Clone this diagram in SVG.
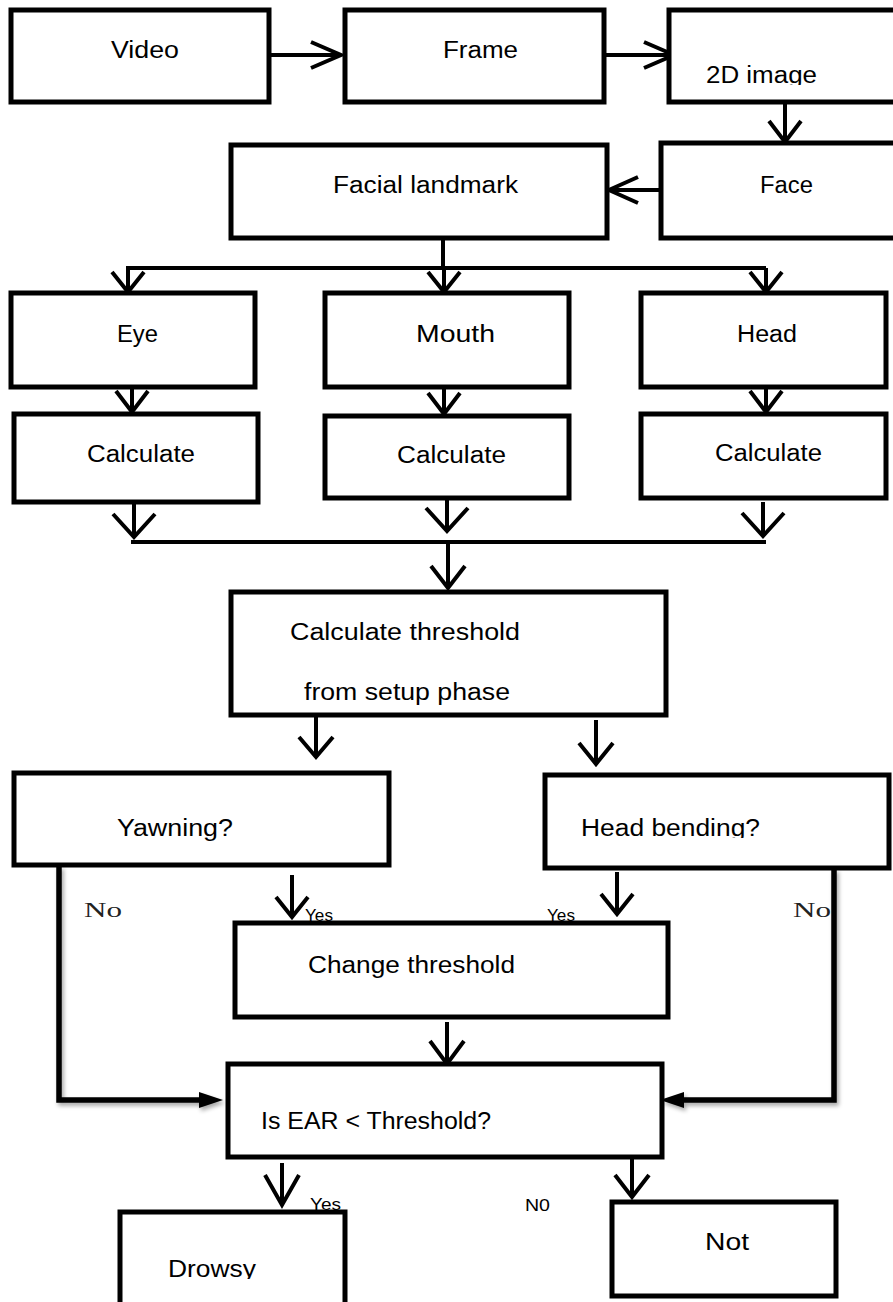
<svg xmlns="http://www.w3.org/2000/svg" width="893" height="1302" viewBox="0 0 893 1302">
<style>
.box{fill:#fff;stroke:#000;stroke-width:5}
.t{font-family:"Liberation Sans",Arial,sans-serif;font-size:23px;fill:#000}
.s{font-family:"Liberation Sans",Arial,sans-serif;font-size:16px;fill:#000}
.n{font-family:"Liberation Serif","Times New Roman",serif;font-size:20px;fill:#222}
.c{fill:none;stroke:#000;stroke-width:4;stroke-linejoin:miter}
.fb{fill:none;stroke:#000;stroke-width:5.5}
</style>
<defs>
<clipPath id="c2d"><rect x="660" y="0" width="240" height="85"/></clipPath>
<clipPath id="cyawn"><rect x="0" y="760" width="400" height="838"/></clipPath>
<clipPath id="chead"><rect x="540" y="760" width="360" height="78"/></clipPath>
<clipPath id="cdrow"><rect x="100" y="1200" width="260" height="79"/></clipPath>
<filter id="sh" x="-10%" y="-10%" width="130%" height="130%"><feDropShadow dx="2" dy="3" stdDeviation="2" flood-color="#000" flood-opacity="0.35"/></filter>
</defs>
<rect width="893" height="1302" fill="#fff"/>
<g id="connectors">
<path class="c" d="M269 55 H341 M311 42 L341 55 L311 68"/>
<path class="c" d="M604 55 H674 M644 42 L674 55 L644 68"/>
<path class="c" d="M785 102 V142 M769 121 L785 142 L801 121"/>
<path class="c" d="M661 190 H609 M638 177 L609 190 L638 203"/>
<path class="c" d="M443 238 V268 M126 268 H766"/>
<path class="c" d="M128 268 V292 M112 272 L128 292 L144 272"/>
<path class="c" d="M444 268 V292 M428 272 L444 292 L460 272"/>
<path class="c" d="M766 268 V292 M750 272 L766 292 L782 272"/>
<path class="c" d="M132 387 V412 M116 391 L132 412 L148 391"/>
<path class="c" d="M444 387 V414 M428 393 L444 414 L460 393"/>
<path class="c" d="M766 387 V412 M750 391 L766 412 L782 391"/>
<path class="c" d="M134 502 V537 M113 514 L134 537 L155 514"/>
<path class="c" d="M447 498 V531 M426 508 L447 531 L468 508"/>
<path class="c" d="M763 502 V536 M742 513 L763 536 L784 513"/>
<path class="c" d="M131 542 H766 M448 542 V588 M431 566 L448 588 L465 566"/>
<path class="c" d="M316 715 V757 M299 737 L316 757 L333 737"/>
<path class="c" d="M596 720 V764 M579 743 L596 764 L613 743"/>
<path class="c" d="M292 875 V917 M276 897 L292 917 L308 897"/>
<path class="c" d="M617 872 V914 M601 894 L617 914 L633 894"/>
<path class="c" d="M447 1022 V1064 M430 1041 L447 1064 L464 1041"/>
<path class="c" d="M282 1163 V1205 M265 1175 L282 1205 L299 1175"/>
<path class="c" d="M632 1157 V1197 M615 1175 L632 1197 L649 1175"/>
<g filter="url(#sh)">
<path class="fb" d="M59 866 V1100 H202"/>
<polygon points="199,1092 223,1100 199,1108" fill="#000"/>
<path class="fb" d="M834 869 V1100 H680"/>
<polygon points="684,1092 660,1100 684,1108" fill="#000"/>
</g>
</g>
<g id="n-video"><rect class="box" x="11" y="10" width="258" height="92"/><text class="t" x="111" y="58" textLength="68" lengthAdjust="spacingAndGlyphs">Video</text></g>
<g id="n-frame"><rect class="box" x="345" y="10" width="259" height="92"/><text class="t" x="443" y="58" textLength="75" lengthAdjust="spacingAndGlyphs">Frame</text></g>
<g id="n-2d"><rect class="box" x="669" y="10" width="240" height="92"/><text class="t" x="706" y="83" textLength="111" lengthAdjust="spacingAndGlyphs" clip-path="url(#c2d)">2D image</text></g>
<g id="n-face"><rect class="box" x="661" y="143" width="240" height="95"/><text class="t" x="760" y="193" textLength="53" lengthAdjust="spacingAndGlyphs">Face</text></g>
<g id="n-landmark"><rect class="box" x="231" y="145" width="376" height="93"/><text class="t" x="333" y="193" textLength="185" lengthAdjust="spacingAndGlyphs">Facial landmark</text></g>
<g id="n-eye"><rect class="box" x="11" y="293" width="244" height="94"/><text class="t" x="117" y="342" textLength="41" lengthAdjust="spacingAndGlyphs">Eye</text></g>
<g id="n-mouth"><rect class="box" x="325" y="293" width="244" height="94"/><text class="t" x="416" y="342" textLength="79" lengthAdjust="spacingAndGlyphs">Mouth</text></g>
<g id="n-head"><rect class="box" x="641" y="293" width="245" height="94"/><text class="t" x="737" y="342" textLength="60" lengthAdjust="spacingAndGlyphs">Head</text></g>
<g id="n-calc-eye"><rect class="box" x="14" y="414" width="244" height="88"/><text class="t" x="87" y="462" textLength="108" lengthAdjust="spacingAndGlyphs">Calculate</text></g>
<g id="n-calc-mouth"><rect class="box" x="325" y="416" width="244" height="82"/><text class="t" x="397" y="463" textLength="109" lengthAdjust="spacingAndGlyphs">Calculate</text></g>
<g id="n-calc-head"><rect class="box" x="641" y="414" width="245" height="84"/><text class="t" x="715" y="461" textLength="107" lengthAdjust="spacingAndGlyphs">Calculate</text></g>
<g id="n-threshold"><rect class="box" x="231" y="592" width="435" height="123"/><text class="t" x="290" y="640" textLength="230" lengthAdjust="spacingAndGlyphs">Calculate threshold</text><text class="t" x="304" y="700" textLength="206" lengthAdjust="spacingAndGlyphs">from setup phase</text></g>
<g id="n-yawning"><rect class="box" x="14" y="773" width="375" height="92"/><text class="t" x="117" y="836" textLength="116" lengthAdjust="spacingAndGlyphs" clip-path="url(#cyawn)">Yawning?</text></g>
<g id="n-bending"><rect class="box" x="545" y="775" width="344" height="93"/><text class="t" x="581" y="836" textLength="179" lengthAdjust="spacingAndGlyphs" clip-path="url(#chead)">Head bending?</text></g>
<g id="labels">
<text class="n" x="84" y="917" textLength="38" lengthAdjust="spacingAndGlyphs">No</text>
<text class="n" x="793" y="917" textLength="38" lengthAdjust="spacingAndGlyphs">No</text>
<text class="s" x="305" y="921" textLength="28" lengthAdjust="spacingAndGlyphs">Yes</text>
<text class="s" x="547" y="921" textLength="28" lengthAdjust="spacingAndGlyphs">Yes</text>
<text class="s" x="310" y="1210" textLength="31" lengthAdjust="spacingAndGlyphs">Yes</text>
<text class="s" x="525" y="1211" textLength="25" lengthAdjust="spacingAndGlyphs">N0</text>
</g>
<g id="n-change"><rect class="box" x="235" y="923" width="433" height="94"/><text class="t" x="308" y="973" textLength="207" lengthAdjust="spacingAndGlyphs">Change threshold</text></g>
<g id="n-ear"><rect class="box" x="228" y="1064" width="434" height="93"/><text class="t" x="261" y="1129" textLength="230" lengthAdjust="spacingAndGlyphs">Is EAR &lt; Threshold?</text></g>
<g id="n-drowsy"><path d="M120 1306 V1212 H345 V1306" fill="#fff" stroke="#000" stroke-width="5"/><text class="t" x="168" y="1277" textLength="88" lengthAdjust="spacingAndGlyphs" clip-path="url(#cdrow)">Drowsy</text></g>
<g id="n-not"><rect class="box" x="612" y="1202" width="224" height="94"/><text class="t" x="705" y="1250" textLength="44" lengthAdjust="spacingAndGlyphs">Not</text></g>
</svg>
